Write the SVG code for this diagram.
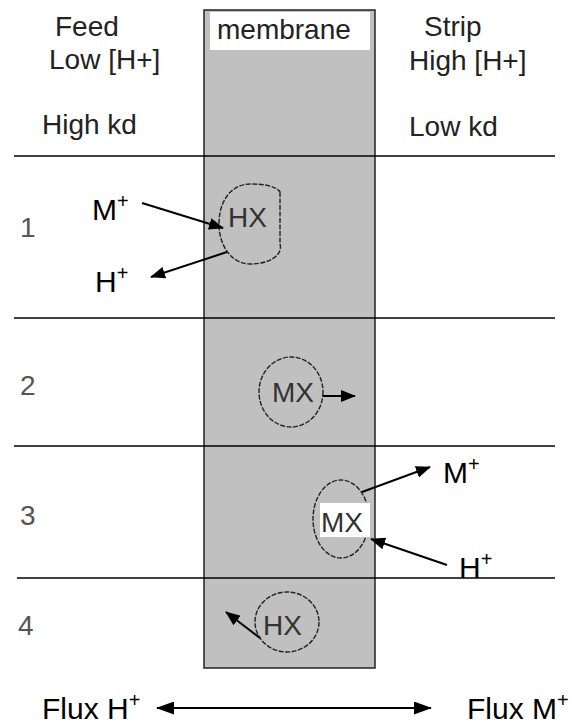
<svg xmlns="http://www.w3.org/2000/svg" width="572" height="727" viewBox="0 0 572 727">
<style>
.lbl{font-family:"Liberation Sans",Arial,sans-serif;font-size:28px;fill:#222}
.ion{font-family:"Liberation Sans",Arial,sans-serif;font-size:30px;fill:#000}
.sup{font-size:20px}
.num{font-family:"Liberation Sans",Arial,sans-serif;font-size:28px;fill:#555}
.cx{fill:none;stroke:#222;stroke-width:1.4;stroke-dasharray:5 1.5}
.cl{font-family:"Liberation Sans",Arial,sans-serif;font-size:28px;fill:#333}
.ar{stroke:#000;stroke-width:2;fill:none}
.div{stroke:#000;stroke-width:1.3}
</style>
<defs>
<marker id="ah" markerWidth="15" markerHeight="12" refX="14" refY="6" orient="auto" markerUnits="userSpaceOnUse" viewBox="0 0 15 12">
<path d="M0,0 L15,6 L0,12 z" fill="#000"/>
</marker>
<marker id="ah2" markerWidth="18" markerHeight="13" refX="17" refY="6.5" orient="auto-start-reverse" markerUnits="userSpaceOnUse" viewBox="0 0 18 13">
<path d="M0,0 L18,6.5 L0,13 z" fill="#000"/>
</marker>
</defs>
<rect width="572" height="727" fill="#fff"/>
<g id="membrane">
<rect x="204" y="10" width="171" height="658" fill="#c0c0c0" stroke="#222" stroke-width="1.5"/>
<rect x="210" y="12" width="160" height="38" fill="#fff"/>
<text class="lbl" x="217" y="39">membrane</text>
</g>
<g id="headers">
<text class="lbl" x="55" y="36">Feed</text>
<text class="lbl" x="49" y="69">Low [H+]</text>
<text class="lbl" x="42" y="134">High kd</text>
<text class="lbl" x="424" y="36">Strip</text>
<text class="lbl" x="409" y="70">High [H+]</text>
<text class="lbl" x="409" y="136">Low kd</text>
</g>
<g id="dividers">
<line class="div" x1="14" y1="156" x2="555" y2="156"/>
<line class="div" x1="14" y1="318" x2="555" y2="318"/>
<line class="div" x1="14" y1="446" x2="555" y2="446"/>
<line class="div" x1="17" y1="578" x2="555" y2="578"/>
</g>
<g id="rownums">
<text class="num" x="20" y="237">1</text>
<text class="num" x="20" y="395">2</text>
<text class="num" x="20" y="525">3</text>
<text class="num" x="18" y="635">4</text>
</g>
<g id="row1">
<path class="cx" d="M280,192 L280,244 C283,255 270,264 250,264 C232,264 219,246 219,224 C219,200 232,184 250,184 C264,184 276,186 280,192 Z"/>
<text class="cl" x="228" y="227">HX</text>
<text class="ion" x="92" y="220">M<tspan class="sup" dy="-12">+</tspan></text>
<text class="ion" x="95" y="292">H<tspan class="sup" dy="-12">+</tspan></text>
</g>
<g id="row2">
<ellipse class="cx" cx="291" cy="392" rx="32" ry="35"/>
<text class="cl" x="272" y="402">MX</text>
</g>
<g id="row3">
<ellipse class="cx" cx="341" cy="519" rx="28" ry="39"/>
<rect x="320" y="503" width="50" height="34" fill="#fff"/>
<text class="cl" x="321" y="532">MX</text>
<text class="ion" x="443" y="483">M<tspan class="sup" dy="-12">+</tspan></text>
<text class="ion" x="459" y="578">H<tspan class="sup" dy="-12">+</tspan></text>
</g>
<g id="row4">
<ellipse class="cx" cx="287" cy="622" rx="32" ry="30"/>
<text class="cl" x="263" y="635">HX</text>
</g>
<g id="connectors">
<line class="ar" x1="142" y1="203" x2="223" y2="228" marker-end="url(#ah)"/>
<line class="ar" x1="227" y1="252" x2="151" y2="277" marker-end="url(#ah)"/>
<line class="ar" x1="323" y1="396" x2="355" y2="396" marker-end="url(#ah)"/>
<line class="ar" x1="362" y1="492" x2="430" y2="467" marker-end="url(#ah)"/>
<line class="ar" x1="447" y1="565" x2="371" y2="539" marker-end="url(#ah)"/>
<line class="ar" x1="260" y1="638" x2="226" y2="612" marker-end="url(#ah)"/>
<line class="ar" x1="157" y1="708" x2="431" y2="708" stroke-width="1.5" marker-start="url(#ah2)" marker-end="url(#ah2)"/>
</g>
<g id="flux">
<text class="ion" x="42" y="719">Flux H<tspan class="sup" dy="-12">+</tspan></text>
<text class="ion" x="467" y="719">Flux M<tspan class="sup" dy="-12">+</tspan></text>
</g>
</svg>
